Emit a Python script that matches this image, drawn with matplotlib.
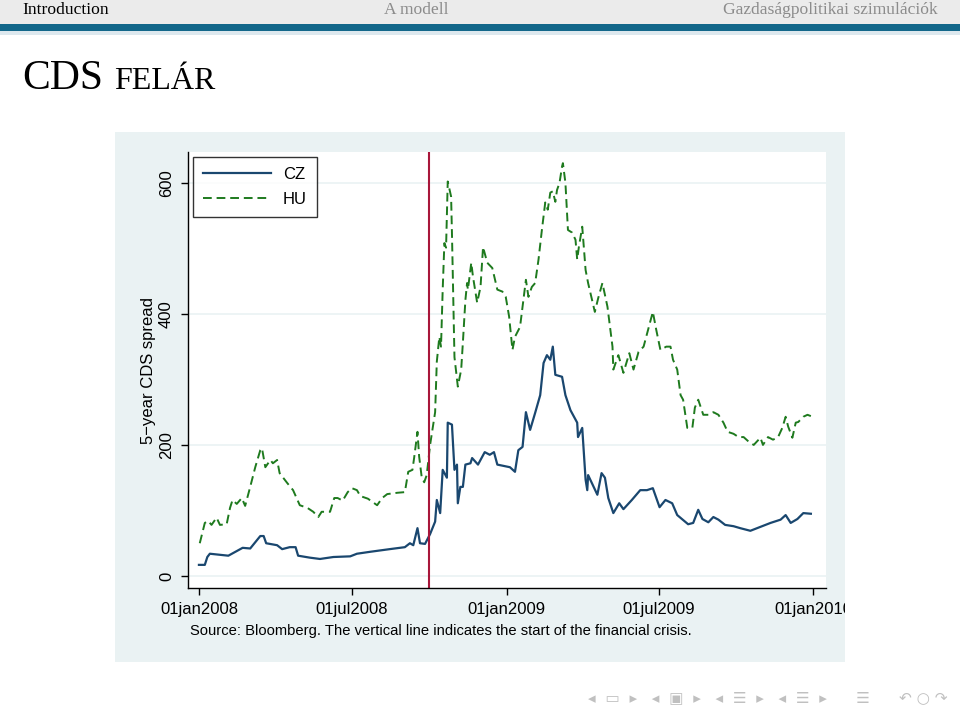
import pandas as pd
import matplotlib
matplotlib.use('Agg')
import matplotlib.pyplot as plt
from matplotlib.patches import Rectangle

# days since 01jan2008
cz_day = [0, 7, 10, 13, 35, 52, 61, 73, 77, 80, 93, 99, 108, 115, 118, 132, 144, 160, 180, 188,
          204, 227, 245, 251, 255, 260, 263, 269, 275, 281, 283, 287, 290, 295, 296, 301, 304, 307, 308, 311,
          314, 317, 323, 325, 332, 340, 346, 351, 355, 370, 376, 380, 385, 389, 394, 400, 406, 410, 414, 418,
          421, 424, 432, 436, 442, 450, 451, 456, 460, 462, 463, 474, 479, 483, 487, 493, 500, 505, 515, 525,
          533, 540, 548, 555, 563, 569, 582, 588, 594, 599, 606, 612, 618, 626, 636, 644, 656, 668, 680, 692,
          698, 704, 712, 719, 728]
cz_val = [17, 17, 29, 34, 31, 43, 42, 61, 61, 50, 47, 41, 44, 44, 31, 28, 26, 29, 30, 34,
          37, 41, 44, 50, 47, 73, 50, 49, 64, 83, 116, 96, 162, 150, 234, 231, 162, 170, 111, 136,
          136, 170, 172, 180, 170, 189, 185, 189, 170, 166, 159, 192, 197, 250, 223, 249, 276, 325, 337, 330,
          350, 307, 304, 276, 253, 234, 212, 226, 147, 131, 154, 124, 157, 150, 119, 96, 111, 102, 116, 131,
          131, 134, 105, 116, 111, 93, 79, 81, 101, 87, 82, 90, 86, 78, 76, 73, 69, 75, 81, 86,
          93, 81, 87, 96, 95]

hu_day = [1, 7, 11, 15, 21, 25, 33, 37, 40, 45, 51, 55, 61, 67, 73, 75, 79, 85, 88, 93,
          96, 105, 112, 120, 129, 136, 142, 146, 156, 161, 165, 171, 177, 182, 188, 192, 201, 212, 218, 224,
          236, 245, 249, 254, 256, 260, 262, 265, 268, 271, 275, 281, 283, 286, 288, 290, 292, 294, 296, 300,
          301, 304, 308, 312, 314, 317, 319, 320, 324, 326, 331, 335, 338, 343, 349, 355, 361, 365, 369, 373,
          376, 382, 386, 389, 392, 396, 400, 404, 408, 412, 415, 418, 421, 424, 426, 429, 432, 433, 436, 439,
          444, 448, 450, 452, 456, 460, 463, 471, 475, 480, 486, 492, 493, 499, 505, 512, 517, 523, 529, 535,
          540, 544, 549, 556, 561, 564, 569, 573, 576, 581, 587, 590, 594, 600, 606, 612, 618, 624, 629, 636,
          642, 648, 654, 660, 668, 671, 677, 683, 689, 694, 698, 701, 706, 710, 713, 719, 724, 728]
hu_val = [50, 81, 84, 78, 89, 78, 79, 104, 116, 110, 119, 107, 136, 166, 192, 195, 166, 177, 172, 177,
          157, 142, 131, 108, 104, 98, 90, 98, 98, 119, 119, 115, 128, 134, 131, 122, 118, 108, 119, 125,
          127, 128, 159, 162, 180, 220, 182, 151, 143, 154, 200, 250, 327, 365, 350, 437, 508, 501, 602, 579,
          524, 334, 289, 315, 356, 421, 447, 437, 478, 457, 417, 441, 502, 478, 470, 437, 434, 426, 396, 345,
          365, 380, 421, 452, 426, 441, 447, 483, 528, 570, 559, 585, 587, 571, 589, 600, 625, 630, 600, 528,
          524, 513, 483, 502, 533, 467, 447, 403, 424, 447, 411, 350, 315, 337, 310, 340, 315, 342, 350, 379,
          403, 376, 345, 350, 350, 330, 315, 276, 269, 226, 226, 257, 269, 246, 246, 250, 246, 234, 220, 217,
          212, 212, 205, 200, 211, 200, 212, 208, 212, 226, 243, 228, 211, 234, 235, 243, 246, 244]

crisis_date = '2008-10-01'
tick_dates = ['2008-01-01', '2008-07-01', '2009-01-01', '2009-07-01', '2010-01-01']
tick_labels = ['01jan2008', '01jul2008', '01jan2009', '01jul2009', '01jan2010']
y_ticks = [0, 200, 400, 600]

start = pd.Timestamp('2008-01-01')
cz_dates = start + pd.to_timedelta(cz_day, unit='D')
hu_dates = start + pd.to_timedelta(hu_day, unit='D')

W, H = 960, 711
fig = plt.figure(figsize=(9.6, 7.11), dpi=100)
fig.patch.set_facecolor('white')

def px_rect(x0, y0, x1, y1, color, z=-5):
    # rectangle in pixel coords (origin top-left)
    r = Rectangle((x0 / W, 1 - y1 / H), (x1 - x0) / W, (y1 - y0) / H,
                  transform=fig.transFigure, facecolor=color, edgecolor='none', zorder=z)
    fig.patches.append(r)

# beamer header
px_rect(0, 0, W, 24, '#ebebeb')
px_rect(0, 24, W, 31, '#13678a')
px_rect(0, 31, W, 35, '#dde8ee')
serif = 'Liberation Serif'
fig.text(22 / W, 1 - 10 / H, 'Introduction', family=serif, fontsize=12.6, color='black', va='center')
fig.text(416 / W, 1 - 10 / H, 'A modell', family=serif, fontsize=12.6, color='#8c8c8c', va='center', ha='center')
fig.text(938 / W, 1 - 10 / H, 'Gazdaságpolitikai szimulációk', family=serif, fontsize=12.6, color='#8c8c8c',
         va='center', ha='right')
fig.text(22 / W, 1 - 89 / H, 'CDS', family=serif, fontsize=30, color='black', va='baseline')
fig.text(114 / W, 1 - 89 / H, 'FELÁR', family=serif, fontsize=23, color='black', va='baseline')

# stata graph region
px_rect(115, 132, 845, 662, '#eaf2f3')

ax = fig.add_axes([188 / W, 1 - 588 / H, (826 - 188) / W, (588 - 152) / H])
ax.set_facecolor('white')
ax.plot(cz_dates, cz_val, color='#1a476f', lw=1.6, label='CZ')
ax.plot(hu_dates, hu_val, color='#1e7a1e', lw=1.4, ls=(0, (4.5, 2.5)), label='HU')
ax.axvline(pd.Timestamp(crisis_date), color='#a8163a', lw=1.5)

x0 = start - pd.Timedelta(days=13)
x1 = start + pd.Timedelta(days=746)
ax.set_xlim(x0, x1)
ax.set_ylim(-18.3, 647)
ax.set_yticks(y_ticks)
ax.set_yticklabels([str(v) for v in y_ticks], rotation=90, va='center', fontsize=12, family='Liberation Sans')
ax.set_xticks(pd.to_datetime(tick_dates))
ax.set_xticklabels(tick_labels, fontsize=12, family='Liberation Sans')
ax.grid(axis='y', color='#eaf2f3', lw=1.2)
ax.set_axisbelow(True)
for s in ['top', 'right']:
    ax.spines[s].set_visible(False)
ax.spines['left'].set_linewidth(1)
ax.spines['bottom'].set_linewidth(1)
ax.tick_params(length=5, width=1, color='black', pad=5)
ax.set_ylabel('5\u2212year CDS spread', fontsize=12, family='Liberation Sans', labelpad=2)

leg = ax.legend(loc='upper left', bbox_to_anchor=(5 / 638, 1 - 5 / 436), borderaxespad=0,
                prop={'family': 'Liberation Sans', 'size': 12}, frameon=True, fancybox=False,
                edgecolor='black', handlelength=4.1, borderpad=0.6, labelspacing=0.62, handletextpad=0.7)
leg.get_frame().set_linewidth(1)

# clip the last date label at the graph border like the slide
px_rect(845, 590, W, 625, 'white', z=5)

fig.text(190 / W, 1 - 631 / H,
         'Source: Bloomberg. The vertical line indicates the start of the financial crisis.',
         fontsize=10.6, family='Liberation Sans', va='center')

# navigation symbols
fig.text(948 / W, 1 - 698 / H, '◂  ▭  ▸   ◂  ▣  ▸   ◂  ☰  ▸   ◂  ☰  ▸      ☰      ↶ ○ ↷',
         fontsize=11, color='#c0c0c0', ha='right', va='center', family='DejaVu Sans')

fig.savefig('out.png', dpi=100)
